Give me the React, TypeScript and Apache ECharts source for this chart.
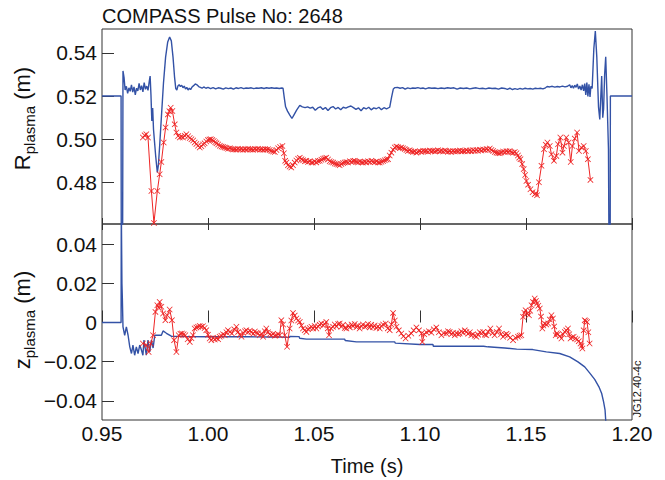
import React, { useEffect, useRef } from "react";
import * as echarts from "echarts";

const titleText = "COMPASS Pulse No: 2648";
const xTicks = [0.95, 1.0, 1.05, 1.1, 1.15, 1.2];
const xName = "Time (s)";
const codeText = "JG12.40-4c";

// Top panel: R plasma (m)
const rMagnetic: [number, number][] = [
[0.950,0.520],[0.9590,0.520],[0.9591,0.440],[0.9597,0.440],[0.9599,0.5316],[0.9604,0.5285],[0.9609,0.5228],[0.9615,0.5245],[0.9621,0.5212],[0.9627,0.5238],[0.9633,0.5222],[0.9639,0.5252],[0.9645,0.5218],[0.9651,0.5242],[0.9657,0.5205],[0.9663,0.5236],[0.9669,0.5224],[0.9675,0.5258],[0.9681,0.5228],[0.9687,0.5248],[0.9693,0.5219],[0.9699,0.5262],[0.9705,0.5231],[0.9711,0.5246],[0.9717,0.5226],[0.9723,0.5268],[0.9727,0.5292],[0.9731,0.5205],[0.9735,0.5085],[0.9739,0.5145],[0.9743,0.5045],[0.9748,0.4985],[0.9753,0.4925],[0.9757,0.4885],[0.9761,0.4847],[0.9766,0.4880],[0.9772,0.4970],[0.9780,0.5100],[0.9790,0.5260],[0.9800,0.5380],[0.9810,0.5450],[0.9819,0.5473],[0.9827,0.5455],[0.9835,0.5380],[0.9842,0.5290],[0.9848,0.5234],[0.9853,0.5228],[0.9858,0.5246],[0.9864,0.5252],[0.9870,0.5244],[0.9876,0.5250],[0.9882,0.5238],[0.9888,0.5246],[0.9894,0.5232],[0.9900,0.5240],[0.9906,0.5228],[0.9912,0.5236],[0.9918,0.5230],[0.9925,0.5242],[0.9932,0.5248],[0.9940,0.5256],[0.9948,0.5252],[0.9956,0.5244],[0.9964,0.5240],[0.9972,0.5236],[0.9980,0.5242],[0.9990,0.5236],[1.0000,0.5240],[1.0012,0.5234],[1.0024,0.5239],[1.0036,0.5233],[1.0048,0.5238],[1.0060,0.5236],[1.0072,0.5232],[1.0084,0.5238],[1.0096,0.5234],[1.0108,0.5237],[1.0120,0.5232],[1.0132,0.5238],[1.0144,0.5235],[1.0156,0.5239],[1.0168,0.5234],[1.0180,0.5237],[1.0192,0.5236],[1.0204,0.5238],[1.0216,0.5234],[1.0228,0.5237],[1.0240,0.5236],[1.0252,0.5238],[1.0264,0.5235],[1.0276,0.5238],[1.0288,0.5236],[1.0300,0.5238],[1.0312,0.5236],[1.0324,0.5237],[1.0336,0.5235],[1.0348,0.5237],[1.0354,0.5236],[1.0360,0.5190],[1.0366,0.5150],[1.0375,0.5130],[1.0386,0.5112],[1.0396,0.5096],[1.0405,0.5112],[1.0418,0.5135],[1.0433,0.5157],[1.0445,0.5150],[1.0458,0.5146],[1.0470,0.5150],[1.0482,0.5144],[1.0494,0.5148],[1.0506,0.5134],[1.0518,0.5145],[1.0530,0.5150],[1.0542,0.5138],[1.0554,0.5147],[1.0566,0.5133],[1.0578,0.5146],[1.0590,0.5151],[1.0602,0.5140],[1.0614,0.5147],[1.0626,0.5136],[1.0638,0.5148],[1.0650,0.5144],[1.0662,0.5150],[1.0674,0.5154],[1.0686,0.5146],[1.0698,0.5138],[1.0710,0.5145],[1.0722,0.5132],[1.0734,0.5146],[1.0746,0.5140],[1.0758,0.5148],[1.0770,0.5136],[1.0782,0.5145],[1.0794,0.5141],[1.0806,0.5148],[1.0818,0.5137],[1.0830,0.5146],[1.0842,0.5140],[1.0857,0.5148],[1.0866,0.5195],[1.0874,0.5232],[1.0882,0.5239],[1.0894,0.5240],[1.0906,0.5236],[1.0918,0.5239],[1.0930,0.5232],[1.0942,0.5238],[1.0954,0.5234],[1.0966,0.5237],[1.0978,0.5236],[1.0990,0.5239],[1.1002,0.5235],[1.1014,0.5237],[1.1026,0.5233],[1.1040,0.5238],[1.1055,0.5236],[1.1070,0.5237],[1.1085,0.5234],[1.1100,0.5237],[1.1115,0.5235],[1.1130,0.5238],[1.1145,0.5236],[1.1160,0.5238],[1.1175,0.5232],[1.1190,0.5237],[1.1205,0.5235],[1.1220,0.5237],[1.1235,0.5233],[1.1250,0.5236],[1.1265,0.5238],[1.1280,0.5234],[1.1295,0.5236],[1.1310,0.5233],[1.1325,0.5237],[1.1340,0.5235],[1.1355,0.5236],[1.1370,0.5232],[1.1385,0.5237],[1.1400,0.5235],[1.1412,0.5231],[1.1424,0.5236],[1.1436,0.5230],[1.1448,0.5234],[1.1460,0.5231],[1.1472,0.5235],[1.1484,0.5232],[1.1496,0.5236],[1.1508,0.5233],[1.1520,0.5235],[1.1532,0.5232],[1.1544,0.5236],[1.1556,0.5234],[1.1568,0.5236],[1.1580,0.5233],[1.1592,0.5238],[1.1600,0.5244],[1.1612,0.5242],[1.1624,0.5245],[1.1636,0.5241],[1.1648,0.5244],[1.1660,0.5242],[1.1672,0.5246],[1.1684,0.5242],[1.1696,0.5245],[1.1706,0.5252],[1.1712,0.5238],[1.1718,0.5248],[1.1724,0.5236],[1.1730,0.5250],[1.1736,0.5240],[1.1742,0.5256],[1.1748,0.5232],[1.1754,0.5246],[1.1760,0.5228],[1.1766,0.5252],[1.1772,0.5224],[1.1777,0.5258],[1.1782,0.5205],[1.1787,0.5262],[1.1792,0.5198],[1.1797,0.5254],[1.1802,0.5196],[1.1806,0.5245],[1.1812,0.5235],[1.1820,0.5420],[1.1827,0.5500],[1.1834,0.5380],[1.1842,0.5150],[1.1848,0.5092],[1.1853,0.5200],[1.1857,0.5292],[1.1862,0.5100],[1.1866,0.5140],[1.1871,0.5300],[1.1876,0.5382],[1.1882,0.5200],[1.1889,0.4954],[1.1892,0.4400],[1.1897,0.4400],[1.1898,0.5200],[1.2000,0.5200]
];

const rFitted: [number, number][] = [
[0.9693,0.5008],[0.9701,0.5018],[0.9709,0.5023],[0.9717,0.5008],[0.9733,0.4761],[0.9745,0.4613],[0.9761,0.4761],[0.9772,0.4838],[0.9780,0.4895],[0.9791,0.4985],[0.9800,0.5054],[0.9811,0.5115],[0.9818,0.5130],[0.9824,0.5146],[0.9832,0.5131],[0.9843,0.5069],[0.9851,0.5031],[0.9859,0.5015],[0.9867,0.5008],[0.9875,0.5012],[0.9882,0.5008],[0.9890,0.5016],[0.9898,0.5023],[0.9906,0.5014],[0.9914,0.5006],[0.9922,0.5000],[0.9930,0.4994],[0.9937,0.4985],[0.9945,0.4978],[0.9953,0.4970],[0.9961,0.4962],[0.9969,0.4968],[0.9977,0.4976],[0.9984,0.4981],[0.9992,0.4990],[1.0000,0.4996],[1.0007,0.4999],[1.0013,0.5000],[1.0020,0.4996],[1.0027,0.4992],[1.0034,0.4986],[1.0040,0.4981],[1.0048,0.4976],[1.0056,0.4970],[1.0064,0.4966],[1.0072,0.4964],[1.0079,0.4962],[1.0087,0.4959],[1.0095,0.4956],[1.0103,0.4958],[1.0111,0.4955],[1.0119,0.4953],[1.0126,0.4954],[1.0134,0.4952],[1.0142,0.4956],[1.0150,0.4953],[1.0158,0.4955],[1.0166,0.4951],[1.0174,0.4954],[1.0182,0.4952],[1.0190,0.4956],[1.0198,0.4953],[1.0205,0.4954],[1.0213,0.4951],[1.0221,0.4955],[1.0229,0.4953],[1.0237,0.4956],[1.0245,0.4952],[1.0253,0.4954],[1.0261,0.4951],[1.0269,0.4955],[1.0276,0.4952],[1.0283,0.4954],[1.0291,0.4950],[1.0299,0.4946],[1.0307,0.4943],[1.0315,0.4941],[1.0323,0.4950],[1.0331,0.4958],[1.0340,0.4964],[1.0351,0.4969],[1.0358,0.4935],[1.0364,0.4900],[1.0370,0.4892],[1.0377,0.4880],[1.0385,0.4874],[1.0393,0.4869],[1.0401,0.4880],[1.0409,0.4892],[1.0417,0.4902],[1.0425,0.4910],[1.0433,0.4915],[1.0441,0.4908],[1.0449,0.4903],[1.0457,0.4898],[1.0464,0.4900],[1.0472,0.4895],[1.0480,0.4898],[1.0488,0.4892],[1.0495,0.4892],[1.0503,0.4897],[1.0511,0.4893],[1.0519,0.4899],[1.0527,0.4900],[1.0535,0.4905],[1.0543,0.4910],[1.0550,0.4912],[1.0558,0.4915],[1.0566,0.4906],[1.0574,0.4898],[1.0582,0.4895],[1.0590,0.4892],[1.0598,0.4888],[1.0606,0.4885],[1.0614,0.4883],[1.0621,0.4880],[1.0629,0.4886],[1.0637,0.4890],[1.0645,0.4893],[1.0653,0.4895],[1.0661,0.4892],[1.0669,0.4898],[1.0677,0.4895],[1.0685,0.4899],[1.0692,0.4900],[1.0700,0.4896],[1.0708,0.4893],[1.0716,0.4897],[1.0724,0.4894],[1.0731,0.4892],[1.0739,0.4896],[1.0747,0.4893],[1.0755,0.4898],[1.0763,0.4895],[1.0771,0.4900],[1.0779,0.4896],[1.0787,0.4894],[1.0795,0.4897],[1.0803,0.4893],[1.0810,0.4892],[1.0818,0.4896],[1.0826,0.4899],[1.0834,0.4903],[1.0842,0.4906],[1.0849,0.4908],[1.0857,0.4925],[1.0865,0.4938],[1.0873,0.4952],[1.0881,0.4962],[1.0889,0.4966],[1.0897,0.4963],[1.0905,0.4960],[1.0912,0.4962],[1.0920,0.4958],[1.0928,0.4955],[1.0936,0.4950],[1.0943,0.4946],[1.0951,0.4949],[1.0959,0.4944],[1.0967,0.4941],[1.0975,0.4943],[1.0983,0.4938],[1.0991,0.4942],[1.0999,0.4945],[1.1007,0.4941],[1.1015,0.4947],[1.1023,0.4944],[1.1030,0.4946],[1.1038,0.4942],[1.1046,0.4948],[1.1054,0.4944],[1.1062,0.4947],[1.1070,0.4943],[1.1077,0.4946],[1.1085,0.4949],[1.1093,0.4944],[1.1101,0.4947],[1.1109,0.4943],[1.1117,0.4948],[1.1124,0.4946],[1.1132,0.4942],[1.1140,0.4945],[1.1148,0.4941],[1.1156,0.4946],[1.1164,0.4943],[1.1172,0.4946],[1.1180,0.4944],[1.1188,0.4948],[1.1196,0.4943],[1.1203,0.4946],[1.1211,0.4944],[1.1219,0.4949],[1.1227,0.4945],[1.1235,0.4948],[1.1243,0.4944],[1.1251,0.4950],[1.1258,0.4946],[1.1266,0.4950],[1.1274,0.4947],[1.1282,0.4952],[1.1290,0.4948],[1.1298,0.4953],[1.1306,0.4950],[1.1314,0.4955],[1.1322,0.4951],[1.1329,0.4957],[1.1337,0.4950],[1.1345,0.4946],[1.1353,0.4941],[1.1361,0.4938],[1.1369,0.4936],[1.1376,0.4935],[1.1384,0.4939],[1.1392,0.4943],[1.1400,0.4940],[1.1408,0.4945],[1.1416,0.4942],[1.1423,0.4946],[1.1431,0.4940],[1.1439,0.4937],[1.1447,0.4941],[1.1455,0.4935],[1.1462,0.4925],[1.1468,0.4915],[1.1474,0.4908],[1.1482,0.4885],[1.1489,0.4862],[1.1496,0.4835],[1.1502,0.4807],[1.1510,0.4790],[1.1521,0.4769],[1.1531,0.4755],[1.1541,0.4746],[1.1547,0.4750],[1.1552,0.4741],[1.1561,0.4801],[1.1573,0.4877],[1.1585,0.4954],[1.1593,0.4975],[1.1601,0.4985],[1.1612,0.4969],[1.1620,0.4931],[1.1632,0.4900],[1.1643,0.4923],[1.1651,0.4977],[1.1662,0.5008],[1.1672,0.4938],[1.1679,0.4969],[1.1690,0.5008],[1.1701,0.4985],[1.1711,0.4895],[1.1719,0.4969],[1.1730,0.5003],[1.1741,0.5031],[1.1750,0.4946],[1.1761,0.4962],[1.1772,0.4969],[1.1782,0.4946],[1.1792,0.4908],[1.1804,0.4812]
];

// Bottom panel: z plasma (m)
const zMagnetic: [number, number][] = [
[0.950,0],[0.9590,0],[0.9591,0.060],[0.9594,0.020],[0.9596,0.0124],[0.9599,-0.0022],[0.9607,-0.0065],[0.9615,-0.0022],[0.9623,-0.0065],[0.9631,-0.0124],[0.9639,-0.0158],[0.9646,-0.0115],[0.9654,-0.0167],[0.9662,-0.0124],[0.9670,-0.0158],[0.9678,-0.0115],[0.9686,-0.0140],[0.9693,-0.0167],[0.9698,-0.0090],[0.9709,-0.0167],[0.9717,-0.0090],[0.9725,-0.0150],[0.9733,-0.0090],[0.9741,-0.0130],[0.9749,-0.0065],[0.9780,-0.0065],[0.9788,-0.0043],[0.9804,-0.0055],[0.9827,-0.0070],[0.9900,-0.0072],[1.0000,-0.0073],[1.0100,-0.0073],[1.0200,-0.0073],[1.0300,-0.0074],[1.0340,-0.0074],[1.0342,-0.0076],[1.0385,-0.0076],[1.0386,-0.0071],[1.0430,-0.0072],[1.0432,-0.0080],[1.0464,-0.0085],[1.0645,-0.0085],[1.0647,-0.0092],[1.0700,-0.0099],[1.0881,-0.0099],[1.0883,-0.0105],[1.0999,-0.0112],[1.1061,-0.0112],[1.1063,-0.0121],[1.1300,-0.0121],[1.1320,-0.0124],[1.1350,-0.0126],[1.1400,-0.0130],[1.1456,-0.0136],[1.1532,-0.0138],[1.1596,-0.0150],[1.1659,-0.0158],[1.1706,-0.0175],[1.1745,-0.0201],[1.1777,-0.0226],[1.1800,-0.0257],[1.1824,-0.0290],[1.1844,-0.0328],[1.1857,-0.0362],[1.1866,-0.0405],[1.1873,-0.0447],[1.1876,-0.0498],[1.1878,-0.0600]
];

const zFitted: [number, number][] = [
[0.9693,-0.0107],[0.9709,-0.0115],[0.9720,-0.0150],[0.9730,-0.0107],[0.9741,-0.0065],[0.9752,0.0054],[0.9761,0.0088],[0.9767,0.0075],[0.9772,0.0105],[0.9780,0.0080],[0.9788,0.0046],[0.9799,0.0012],[0.9808,0.0037],[0.9819,0.0066],[0.9830,0.0012],[0.9840,-0.0090],[0.9851,-0.0150],[0.9862,-0.0065],[0.9870,-0.0058],[0.9877,-0.0056],[0.9885,-0.0060],[0.9893,-0.0065],[0.9904,-0.0085],[0.9914,-0.0099],[0.9922,-0.0080],[0.9929,-0.0065],[0.9937,-0.0031],[0.9945,-0.0025],[0.9953,-0.0022],[0.9961,-0.0018],[0.9968,-0.0022],[0.9976,-0.0019],[0.9984,-0.0028],[0.9992,-0.0039],[1.0000,-0.0062],[1.0008,-0.0082],[1.0016,-0.0090],[1.0024,-0.0078],[1.0032,-0.0087],[1.0040,-0.0080],[1.0048,-0.0085],[1.0055,-0.0073],[1.0063,-0.0068],[1.0071,-0.0060],[1.0079,-0.0065],[1.0087,-0.0050],[1.0094,-0.0039],[1.0103,-0.0048],[1.0113,-0.0056],[1.0124,-0.0035],[1.0134,-0.0022],[1.0142,-0.0048],[1.0150,-0.0062],[1.0158,-0.0073],[1.0166,-0.0052],[1.0174,-0.0045],[1.0181,-0.0039],[1.0189,-0.0050],[1.0197,-0.0042],[1.0205,-0.0048],[1.0213,-0.0058],[1.0221,-0.0046],[1.0229,-0.0052],[1.0236,-0.0056],[1.0244,-0.0065],[1.0252,-0.0058],[1.0260,-0.0073],[1.0268,-0.0045],[1.0275,-0.0031],[1.0283,-0.0050],[1.0291,-0.0060],[1.0299,-0.0065],[1.0307,-0.0058],[1.0315,-0.0068],[1.0323,-0.0065],[1.0331,-0.0060],[1.0338,-0.0065],[1.0346,0.0012],[1.0354,-0.0010],[1.0362,-0.0065],[1.0373,-0.0124],[1.0385,-0.0031],[1.0393,0.0010],[1.0401,0.0049],[1.0409,0.0035],[1.0417,0.0020],[1.0425,0.0010],[1.0433,0.0003],[1.0441,-0.0015],[1.0448,-0.0031],[1.0456,-0.0040],[1.0464,-0.0048],[1.0472,-0.0035],[1.0480,-0.0028],[1.0488,-0.0022],[1.0496,-0.0030],[1.0503,-0.0018],[1.0511,-0.0031],[1.0519,-0.0020],[1.0527,-0.0012],[1.0535,-0.0005],[1.0543,-0.0015],[1.0550,-0.0008],[1.0558,0.0003],[1.0565,-0.0030],[1.0571,-0.0065],[1.0580,-0.0030],[1.0590,-0.0022],[1.0598,-0.0010],[1.0606,-0.0020],[1.0614,-0.0008],[1.0621,-0.0005],[1.0629,-0.0022],[1.0637,-0.0012],[1.0645,-0.0028],[1.0653,-0.0031],[1.0661,-0.0015],[1.0669,-0.0025],[1.0677,-0.0010],[1.0684,-0.0019],[1.0692,-0.0008],[1.0700,-0.0024],[1.0708,-0.0015],[1.0715,-0.0031],[1.0723,-0.0018],[1.0731,-0.0010],[1.0739,-0.0022],[1.0747,-0.0019],[1.0755,-0.0008],[1.0763,-0.0025],[1.0770,-0.0012],[1.0778,-0.0024],[1.0786,-0.0015],[1.0794,-0.0028],[1.0802,-0.0020],[1.0810,-0.0031],[1.0818,-0.0018],[1.0826,-0.0010],[1.0838,-0.0005],[1.0848,-0.0030],[1.0857,-0.0039],[1.0865,-0.0010],[1.0873,0.0049],[1.0881,0.0010],[1.0889,-0.0022],[1.0900,-0.0040],[1.0912,-0.0056],[1.0922,-0.0070],[1.0932,-0.0082],[1.0945,-0.0068],[1.0959,-0.0056],[1.0970,-0.0040],[1.0983,-0.0025],[1.0995,-0.0040],[1.1007,-0.0056],[1.1011,-0.0099],[1.1020,-0.0060],[1.1030,-0.0050],[1.1042,-0.0045],[1.1054,-0.0052],[1.1065,-0.0035],[1.1077,-0.0025],[1.1089,-0.0050],[1.1101,-0.0065],[1.1112,-0.0055],[1.1124,-0.0056],[1.1132,-0.0045],[1.1140,-0.0048],[1.1148,-0.0060],[1.1156,-0.0052],[1.1164,-0.0065],[1.1172,-0.0055],[1.1180,-0.0060],[1.1187,-0.0056],[1.1195,-0.0045],[1.1203,-0.0052],[1.1211,-0.0040],[1.1219,-0.0048],[1.1227,-0.0058],[1.1235,-0.0050],[1.1242,-0.0065],[1.1250,-0.0060],[1.1258,-0.0068],[1.1266,-0.0073],[1.1274,-0.0062],[1.1282,-0.0050],[1.1290,-0.0056],[1.1298,-0.0048],[1.1306,-0.0062],[1.1313,-0.0065],[1.1322,-0.0048],[1.1332,-0.0031],[1.1342,-0.0055],[1.1352,-0.0065],[1.1362,-0.0048],[1.1373,-0.0031],[1.1382,-0.0060],[1.1392,-0.0073],[1.1400,-0.0062],[1.1408,-0.0058],[1.1415,-0.0065],[1.1425,-0.0078],[1.1439,-0.0090],[1.1450,-0.0078],[1.1462,-0.0073],[1.1470,-0.0068],[1.1478,-0.0065],[1.1486,0.0029],[1.1492,0.0050],[1.1498,0.0063],[1.1506,0.0045],[1.1514,0.0037],[1.1520,0.0060],[1.1526,0.0088],[1.1533,0.0105],[1.1541,0.0122],[1.1547,0.0110],[1.1552,0.0097],[1.1558,0.0085],[1.1565,0.0071],[1.1571,0.0030],[1.1577,-0.0031],[1.1582,-0.0015],[1.1588,-0.0005],[1.1596,-0.0010],[1.1604,-0.0005],[1.1612,0.0015],[1.1620,0.0037],[1.1627,0.0020],[1.1633,-0.0020],[1.1640,-0.0065],[1.1645,-0.0055],[1.1651,-0.0060],[1.1659,-0.0070],[1.1667,-0.0082],[1.1675,-0.0060],[1.1683,-0.0048],[1.1690,-0.0040],[1.1698,-0.0031],[1.1704,-0.0060],[1.1710,-0.0082],[1.1718,-0.0075],[1.1725,-0.0073],[1.1733,-0.0082],[1.1741,-0.0087],[1.1749,-0.0095],[1.1757,-0.0107],[1.1762,-0.0120],[1.1766,-0.0133],[1.1772,-0.0040],[1.1777,0.0012],[1.1782,0.0008],[1.1788,0.0002],[1.1794,-0.0050],[1.1800,-0.0107]
];

const FONT = "'Liberation Sans', Arial, Helvetica, sans-serif";
const BLUE = "#3352a6";
const RED = "#ee2424";
const AXIS = "#333333";
const CROSS = "path://M0,0.9L0.9,0L5,4.1L9.1,0L10,0.9L5.9,5L10,9.1L9.1,10L5,5.9L0.9,10L0,9.1L4.1,5Z";

const fmt = (v: number) => {
  if (Math.abs(v) < 1e-9) return "0";
  return v < 0 ? "\u2212" + Math.abs(v).toFixed(2) : v.toFixed(2);
};

export default function App() {
  const ref = useRef<HTMLDivElement>(null);
  useEffect(() => {
    if (!ref.current) return;
    const chart = echarts.init(ref.current, null, { renderer: "svg" });
    const xBase = {
      type: "value" as const,
      min: xTicks[0],
      max: xTicks[xTicks.length - 1],
      interval: 0.05,
      axisLine: { show: false },
      splitLine: { show: false },
    };
    const yBase = {
      type: "value" as const,
      axisLine: { show: false },
      splitLine: { show: false },
      axisTick: { show: true, inside: true, length: 12, lineStyle: { color: AXIS, width: 1 } },
      axisLabel: {
        show: true, fontSize: 21, fontFamily: FONT, color: "#111", margin: 5,
        showMinLabel: false, showMaxLabel: false, formatter: fmt,
      },
    };
    const lineSeries = (data: [number, number][], x: number, y: number) => ({
      type: "line", xAxisIndex: x, yAxisIndex: y, data, showSymbol: false,
      lineStyle: { color: BLUE, width: 1.4 }, itemStyle: { color: BLUE }, z: 2,
    });
    const markSeries = (data: [number, number][], x: number, y: number) => ({
      type: "line", xAxisIndex: x, yAxisIndex: y, data, showSymbol: true, showAllSymbol: true,
      symbol: CROSS, symbolSize: 6,
      lineStyle: { color: RED, width: 1 }, itemStyle: { color: RED }, z: 3,
    });
    chart.setOption({
      animation: false,
      backgroundColor: "#ffffff",
      textStyle: { fontFamily: FONT },
      grid: [
        { left: 102, top: 29, width: 530, height: 195, show: true, borderColor: AXIS, borderWidth: 1, backgroundColor: "transparent" },
        { left: 102, top: 224, width: 530, height: 196, show: true, borderColor: AXIS, borderWidth: 1, backgroundColor: "transparent" },
      ],
      xAxis: [
        { ...xBase, gridIndex: 0, position: "bottom",
          axisTick: { show: true, inside: true, length: 6, lineStyle: { color: AXIS } }, axisLabel: { show: false } },
        { ...xBase, gridIndex: 1, position: "bottom",
          axisTick: { show: true, inside: true, length: 12, lineStyle: { color: AXIS } },
          axisLabel: { fontSize: 21, fontFamily: FONT, color: "#111", margin: 3, formatter: (v: number) => v.toFixed(2) },
          name: xName, nameLocation: "middle", nameGap: 36,
          nameTextStyle: { fontSize: 20, fontFamily: FONT, color: "#111" } },
        { ...xBase, gridIndex: 1, position: "top",
          axisTick: { show: true, inside: true, length: 6, lineStyle: { color: AXIS } }, axisLabel: { show: false } },
      ],
      yAxis: [
        { ...yBase, gridIndex: 0, min: 0.4608, max: 0.551 },
        { ...yBase, gridIndex: 1, min: -0.0497, max: 0.0502 },
      ],
      series: [
        lineSeries(rMagnetic, 0, 0),
        markSeries(rFitted, 0, 0),
        lineSeries(zMagnetic, 1, 1),
        markSeries(zFitted, 1, 1),
      ],
      graphic: [
        { type: "text", left: 102, top: 6,
          style: { text: titleText, fontSize: 20, fontFamily: FONT, fill: "#111" } },
        { type: "text", x: 22.5, y: 118.5, rotation: Math.PI / 2,
          style: {
            text: "{a|R}{b|plasma}{a| (m)}", align: "center", verticalAlign: "middle",
            rich: {
              a: { fontSize: 22, fontFamily: FONT, fill: "#111" },
              b: { fontSize: 15, fontFamily: FONT, fill: "#111", padding: [13, 0, 0, 0] },
            },
          } },
        { type: "text", x: 22.5, y: 320, rotation: Math.PI / 2,
          style: {
            text: "{a|z}{b|plasma}{a| (m)}", align: "center", verticalAlign: "middle",
            rich: {
              a: { fontSize: 22, fontFamily: FONT, fill: "#111" },
              b: { fontSize: 15, fontFamily: FONT, fill: "#111", padding: [13, 0, 0, 0] },
            },
          } },
        { type: "text", x: 636.5, y: 389, rotation: Math.PI / 2,
          style: { text: codeText, fontSize: 11, fontFamily: FONT, fill: "#111", align: "center", verticalAlign: "middle" } },
      ],
    });
    return () => chart.dispose();
  }, []);
  return <div ref={ref} style={{ width: 665, height: 480, position: "absolute", left: 0, top: 0 }} />;
}
